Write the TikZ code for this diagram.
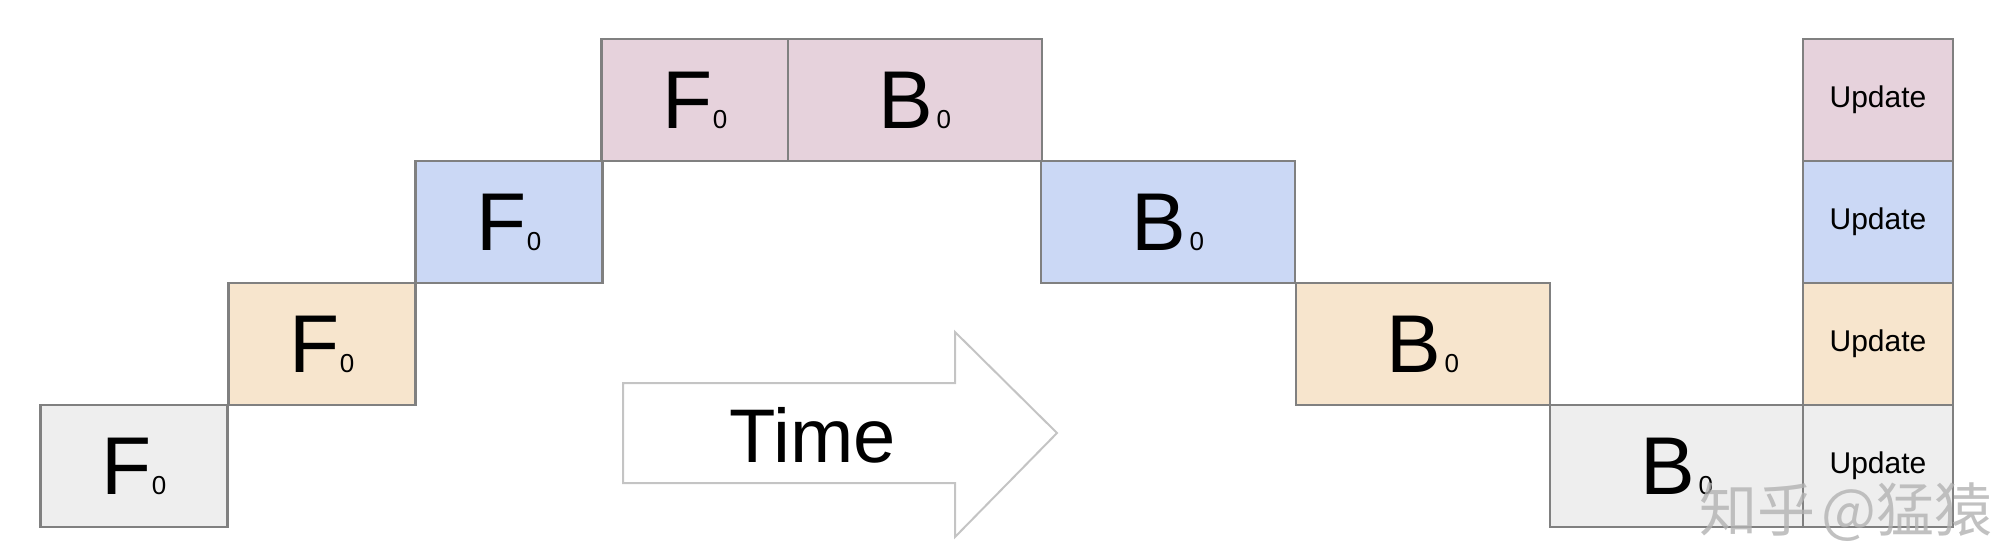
\documentclass[tikz,border=0pt]{standalone}
\usepackage{fontspec}
\setmainfont{Liberation Sans}
\newfontfamily\cjkfont{Noto Sans CJK SC}
\definecolor{cgray}{HTML}{EEEEEE}
\definecolor{corange}{HTML}{F7E5CD}
\definecolor{cblue}{HTML}{CBD8F5}
\definecolor{cpink}{HTML}{E6D2DC}
\definecolor{edge}{HTML}{808080}
\definecolor{arrowedge}{HTML}{C4C4C4}
\newcommand{\subz}{{\fontsize{26}{26}\selectfont 0}}
\newcommand{\Flab}{{\fontsize{82}{82}\selectfont F\kern0pt\subz}}
\newcommand{\Blab}{{\fontsize{82}{82}\selectfont B\kern3pt\subz}}
\tikzset{
  cell/.style={draw=edge, line width=2.5pt, inner sep=0pt, minimum height=122pt, text=black},
  fcell/.style={cell, minimum width=187pt},
  bcell/.style={cell, minimum width=254pt},
  ucell/.style={cell, minimum width=150pt, font=\fontsize{30}{30}\selectfont},
}
\begin{document}
\begin{tikzpicture}[x=1pt,y=-1pt]
\useasboundingbox (0,0) rectangle (2010,556);
% forward
\node[fcell, fill=cgray]   (f1) at (134,466)   {\Flab};
\node[fcell, fill=corange] (f2) at (322,344)   {\Flab};
\node[fcell, fill=cblue]   (f3) at (509,222)   {\Flab};
\node[fcell, fill=cpink]   (f4) at (695,100)   {\Flab};
% backward
\node[bcell, fill=cpink]   (b4) at (915,100)   {\Blab};
\node[bcell, fill=cblue]   (b3) at (1168,222)  {\Blab};
\node[bcell, fill=corange] (b2) at (1423,344)  {\Blab};
\node[bcell, fill=cgray]   (b1) at (1677,466)  {\Blab};
% updates
\node[ucell, fill=cpink]   (u4) at (1878,100)  {Update};
\node[ucell, fill=cblue]   (u3) at (1878,222)  {Update};
\node[ucell, fill=corange] (u2) at (1878,344)  {Update};
\node[ucell, fill=cgray]   (u1) at (1878,466)  {Update};
% time arrow
\draw[arrowedge, line width=2pt, line join=miter]
  (623,383) -- (955,383) -- (955,332) -- (1057,433) -- (955,537) -- (955,483) -- (623,483) -- cycle;
\node[font=\fontsize{76}{76}\selectfont] (time) at (813,435) {Time};
% watermark
\node[text=black!30, font=\cjkfont\fontsize{58}{58}\selectfont, opacity=0.8, anchor=east] (wm) at (1996,512) {知乎\kern6pt@猛猿};
\end{tikzpicture}
\end{document}
